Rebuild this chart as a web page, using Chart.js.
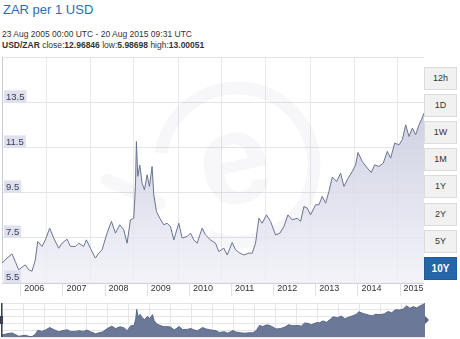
<!DOCTYPE html>
<html><head><meta charset="utf-8">
<script src="https://cdn.jsdelivr.net/npm/chart.js@4.4.1/dist/chart.umd.min.js"></script>
<style>
html,body{margin:0;padding:0}
body{width:460px;height:339px;background:#fff;font-family:"Liberation Sans",Arial,sans-serif;position:relative;overflow:hidden}
#title{position:absolute;left:3px;top:2px;font-size:13px;color:#2b6cb5;white-space:nowrap}
#sub{position:absolute;left:2px;top:29px;font-size:8.5px;color:#333;white-space:nowrap}
#info{position:absolute;left:2px;top:40px;font-size:8.5px;color:#333;white-space:nowrap}
#main{position:absolute;left:-8px;top:47px}
#nav{position:absolute;left:0;top:300px}
.btn{position:absolute;left:424px;width:31px;height:21px;border:1px solid #dcdcdc;background:#f1f1f1;font-size:9px;color:#333;text-align:center;line-height:21px}
.btn.on{background:#2566a8;border-color:#1f5b99;color:#fff;font-weight:bold;font-size:10px}
</style></head>
<body>
<div id="title">ZAR per 1 USD</div>
<div id="sub">23 Aug 2005 00:00 UTC - 20 Aug 2015 09:31 UTC</div>
<div id="info"><b>USD/ZAR</b> close:<b>12.96846</b> low:<b>5.98698</b> high:<b>13.00051</b></div>
<canvas id="main" width="432" height="253"></canvas>
<canvas id="nav" width="432" height="39"></canvas>
<script>
// decimal-year dates
const years = [2005.565,2005.683,2005.802,2005.881,2005.960,2006.040,2006.119,2006.198,2006.277,2006.356,2006.412,2006.515,2006.594,2006.697,2006.792,2006.911,2006.990,2007.108,2007.188,2007.306,2007.386,2007.504,2007.568,2007.663,2007.781,2007.861,2007.940,2008.059,2008.162,2008.257,2008.359,2008.454,2008.534,2008.613,2008.692,2008.732,2008.755,2008.787,2008.835,2008.890,2008.945,2009.009,2009.064,2009.127,2009.167,2009.230,2009.310,2009.405,2009.484,2009.563,2009.642,2009.761,2009.840,2009.959,2010.038,2010.117,2010.196,2010.315,2010.394,2010.513,2010.632,2010.711,2010.830,2010.909,2011.028,2011.107,2011.210,2011.305,2011.424,2011.503,2011.582,2011.661,2011.740,2011.843,2011.938,2012.057,2012.160,2012.255,2012.350,2012.453,2012.572,2012.651,2012.730,2012.809,2012.888,2013.007,2013.086,2013.165,2013.245,2013.324,2013.403,2013.506,2013.601,2013.680,2013.759,2013.878,2013.957,2014.013,2014.116,2014.234,2014.329,2014.409,2014.511,2014.614,2014.709,2014.789,2014.884,2014.987,2015.066,2015.145,2015.224,2015.303,2015.382,2015.462,2015.517,2015.580];
const rates = [6.34,6.57,6.76,6.42,6.05,6.17,6.27,6.05,5.99,6.49,7.31,7.09,7.38,7.90,7.46,7.01,7.23,7.41,7.09,7.09,7.23,7.09,7.38,7.01,6.57,6.79,6.94,7.68,8.20,7.68,8.05,7.83,7.23,8.27,8.34,9.75,11.75,10.20,10.70,9.90,9.60,10.27,9.75,10.64,9.38,8.64,8.34,8.05,8.12,7.97,7.38,8.12,7.46,7.53,7.68,7.38,7.23,7.90,7.60,7.38,7.23,6.86,7.01,6.71,7.26,6.94,6.79,6.71,6.79,6.79,7.23,8.34,8.12,8.49,8.20,7.60,7.68,7.97,8.49,8.27,8.34,8.20,8.86,8.79,8.49,8.94,8.94,9.31,9.01,9.53,10.17,9.97,10.34,9.75,10.05,10.42,10.71,11.26,10.86,10.57,10.37,10.71,10.64,10.79,11.31,11.01,11.68,11.60,11.83,12.49,11.97,12.34,12.05,12.49,12.71,13.01];
const yearTicks = [2006,2007,2008,2009,2010,2011,2012,2013,2014,2015];
const rateTicks = [5.5,7.5,9.5,11.5,13.5];
const ranges = ['12h','1D','1W','1M','1Y','2Y','5Y','10Y'];
const activeRange = '10Y';

ranges.forEach((r,i)=>{
  const d=document.createElement('div');
  d.className='btn'+(r===activeRange?' on':'');
  d.style.top=(67+i*27.1)+'px';
  d.textContent=r;
  document.body.appendChild(d);
});

const points = years.map((x,i)=>({x, y: rates[i]}));
const xMin = years[0], xMax = years[years.length-1];

const watermark = {
  id:'watermark',
  beforeDatasetsDraw(chart){
    const {ctx, chartArea:ca} = chart;
    const cx = ca.left + 235, cy = ca.top + 108;
    ctx.save();
    ctx.strokeStyle='rgba(40,45,90,0.04)';
    ctx.fillStyle='rgba(40,45,90,0.04)';
    ctx.lineWidth=13;
    ctx.beginPath();
    ctx.arc(cx, cy, 77, Math.PI*1.05, Math.PI*0.62);
    ctx.stroke();
    ctx.lineCap='round';
    ctx.beginPath();
    ctx.moveTo(cx-130, cy+15); ctx.lineTo(cx-78, cy+38);
    ctx.stroke();
    ctx.translate(cx-2, cy+2);
    ctx.rotate(-0.22);
    ctx.font='bold 130px "Liberation Sans", Arial, sans-serif';
    ctx.textAlign='center'; ctx.textBaseline='middle';
    ctx.fillText('e',0,0);
    ctx.restore();
  }
};

const yearSeparators = {
  id:'yearSeparators',
  afterDraw(chart){
    const s = chart.scales.x, ctx = chart.ctx;
    ctx.save();
    ctx.strokeStyle='#e0e0e5'; ctx.lineWidth=1;
    yearTicks.forEach(v=>{
      const px=Math.round(s.getPixelForValue(v))+0.5;
      ctx.beginPath(); ctx.moveTo(px,s.top); ctx.lineTo(px,s.top+13); ctx.stroke();
    });
    ctx.restore();
  }
};

new Chart(document.getElementById('main'), {
  type:'line',
  data:{datasets:[{
    data: points,
    borderColor:'#6a7392',
    borderWidth:1,
    pointRadius:0,
    tension:0,
    fill:'start',
    backgroundColor:(c)=>{
      const ca=c.chart.chartArea;
      if(!ca) return 'rgba(200,203,222,0.6)';
      const g=c.chart.ctx.createLinearGradient(0,ca.top,0,ca.bottom);
      g.addColorStop(0,'rgba(186,190,214,0.9)');
      g.addColorStop(1,'rgba(240,240,247,0.8)');
      return g;
    }
  }]},
  options:{
    responsive:false, animation:false,
    layout:{padding:{left:2,top:10,right:0,bottom:6}},
    plugins:{legend:{display:false},tooltip:{enabled:false}},
    scales:{
      x:{type:'linear',position:'bottom',min:xMin,max:xMax,
        afterBuildTicks:(s)=>{s.ticks=yearTicks.map(v=>({value:v}));},
        grid:{drawOnChartArea:false,drawTicks:false},
        border:{color:'#cfd2e2'},
        ticks:{align:'start',labelOffset:4,padding:0,autoSkip:false,maxRotation:0,color:'#333',
          font:{size:9,family:'"Liberation Sans", Arial, sans-serif'},callback:(v)=>String(v)}
      },
      xg:{type:'linear',position:'top',min:0,max:422/44,
        grid:{drawTicks:false,color:'#e9e9ee'},
        border:{color:'#e3e3e8'},
        ticks:{display:false,stepSize:1,includeBounds:false}
      },
      y:{type:'linear',position:'left',min:5.456,max:15.5,
        afterBuildTicks:(s)=>{s.ticks=rateTicks.map(v=>({value:v}));},
        grid:{drawTicks:false,color:'#e3e3e8'},
        border:{color:'#c6c9dd'},
        ticks:{z:1,mirror:true,padding:4,labelOffset:-5,color:'#333b5e',
          showLabelBackdrop:true,backdropColor:'#dfe0ec',backdropPadding:{left:2,right:2,top:1,bottom:0},
          font:{size:9.5,family:'"Liberation Sans", Arial, sans-serif'},callback:(v)=>v.toFixed(1)}
      }
    }
  },
  plugins:[watermark, yearSeparators]
});

const handles = {
  id:'handles',
  afterDraw(chart){
    const {ctx, chartArea:ca} = chart;
    const mid=(ca.top+ca.bottom)/2;
    ctx.save();
    ctx.fillStyle='#3d4253';
    ctx.fillRect(ca.left-1, ca.top, 1.5, ca.bottom-ca.top);
    ctx.fillRect(ca.left-2, mid-4, 3, 8);
    ctx.fillStyle='#556283';
    ctx.beginPath();
    ctx.moveTo(ca.right, mid-4); ctx.lineTo(ca.right+4, mid); ctx.lineTo(ca.right, mid+4);
    ctx.closePath(); ctx.fill();
    ctx.restore();
  }
};

new Chart(document.getElementById('nav'), {
  type:'line',
  data:{datasets:[{data:points,borderColor:'#5a6787',borderWidth:1,pointRadius:0,tension:0,fill:'start',backgroundColor:'#6b7898'}]},
  options:{
    responsive:false, animation:false,
    layout:{padding:{left:2,top:3,right:7,bottom:2}},
    plugins:{legend:{display:false},tooltip:{enabled:false}},
    scales:{
      x:{type:'linear',display:false,min:xMin,max:xMax},
      y:{type:'linear',display:false,min:5.9,max:13.1},
      xg:{type:'linear',position:'bottom',min:0,max:423/21,
        grid:{drawTicks:false,color:'#e6e6ea'},border:{display:false},
        ticks:{display:false,stepSize:1,includeBounds:false}},
      yg:{type:'linear',position:'left',min:0,max:5,
        grid:{drawTicks:false,color:'#e6e6ea'},border:{display:false},
        ticks:{display:false,stepSize:1}}
    }
  },
  plugins:[handles]
});
</script>
</body></html>
